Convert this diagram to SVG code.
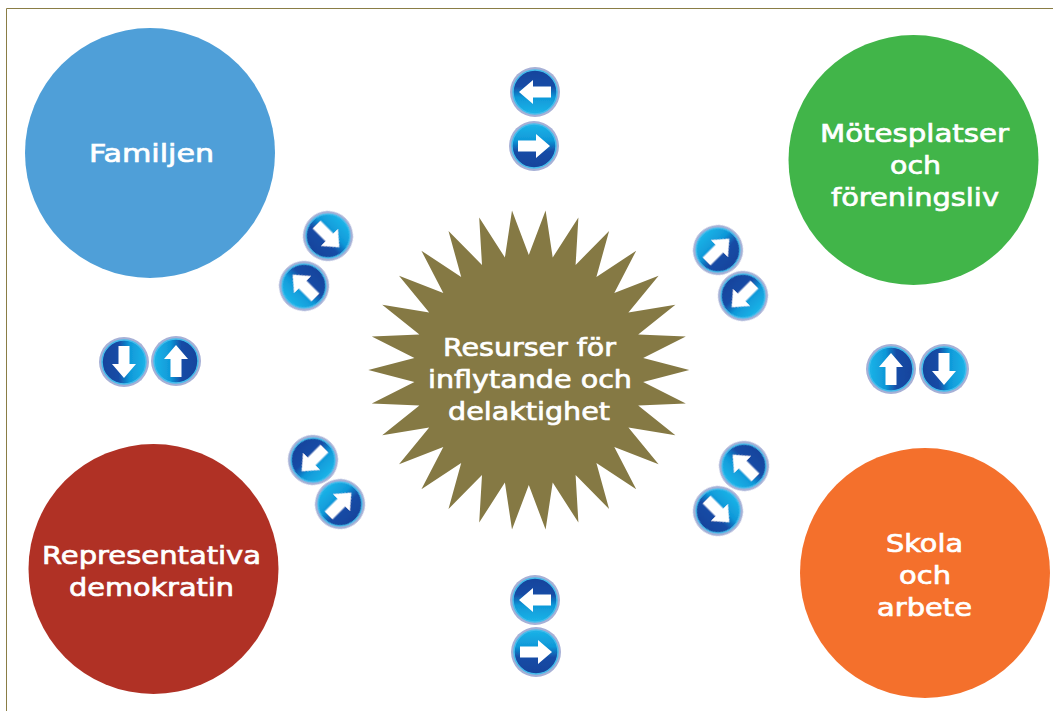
<svg xmlns="http://www.w3.org/2000/svg" width="1053" height="711" viewBox="0 0 1053 711">
<style>
.t{font-family:"DejaVu Sans",Verdana,sans-serif;font-size:25px;fill:#fff;text-anchor:middle;stroke:#fff;stroke-width:.7px}
</style>
<defs>
<linearGradient id="g" x1="0" y1="0" x2="0" y2="1"><stop offset="0" stop-color="#1cb4e8"/><stop offset=".38" stop-color="#0f98d8"/><stop offset=".62" stop-color="#134ca6"/><stop offset="1" stop-color="#17439c"/></linearGradient>
<filter id="b" x="-10%" y="-10%" width="120%" height="120%"><feGaussianBlur stdDeviation=".6"/></filter>
<g id="i" filter="url(#b)"><circle r="25" fill="#a6b0d6"/><circle r="22" fill="url(#g)" stroke="#45bdec" stroke-width="1.500"/><path d="M-16-5.500H2V-12L16 0 2 12V5.500H-16Z" fill="#fff"/></g>
</defs>
<rect width="1053" height="711" fill="#fff"/>
<path d="M6.500 711V8.500H1053" fill="none" stroke="#8a7d45" stroke-width="1"/>
<g id="connectors">
<use href="#i" transform="translate(535 92) rotate(180)"/>
<use href="#i" transform="translate(534 146)"/>
<use href="#i" transform="translate(328 236) rotate(45)"/>
<use href="#i" transform="translate(304 286) rotate(225)"/>
<use href="#i" transform="translate(718 250) rotate(-45)"/>
<use href="#i" transform="translate(743 296) rotate(135)"/>
<use href="#i" transform="translate(124 362) rotate(90)"/>
<use href="#i" transform="translate(176 361) rotate(-90)"/>
<use href="#i" transform="translate(891 369) rotate(-90)"/>
<use href="#i" transform="translate(944 369) rotate(90)"/>
<use href="#i" transform="translate(313 460) rotate(135)"/>
<use href="#i" transform="translate(340 504) rotate(-45)"/>
<use href="#i" transform="translate(744 466) rotate(225)"/>
<use href="#i" transform="translate(718 511) rotate(45)"/>
<use href="#i" transform="translate(535 600) rotate(180)"/>
<use href="#i" transform="translate(536 652)"/>
</g>
<g id="familjen"><circle cx="150" cy="153" r="125" fill="#4f9fd8"/><text class="t" x="151.500" y="162" textLength="125" lengthAdjust="spacingAndGlyphs">Familjen</text></g>
<g id="motesplatser"><circle cx="913.500" cy="160" r="125" fill="#41b549"/><text class="t" x="914.500" y="142" textLength="189" lengthAdjust="spacingAndGlyphs">Mötesplatser</text><text class="t" x="915.500" y="174" textLength="51" lengthAdjust="spacingAndGlyphs">och</text><text class="t" x="915" y="206" textLength="168" lengthAdjust="spacingAndGlyphs">föreningsliv</text></g>
<g id="representativa"><circle cx="153.500" cy="569" r="125" fill="#b03125"/><text class="t" x="151.500" y="564" textLength="219" lengthAdjust="spacingAndGlyphs">Representativa</text><text class="t" x="151.500" y="596" textLength="165" lengthAdjust="spacingAndGlyphs">demokratin</text></g>
<g id="skola"><circle cx="925" cy="573" r="125" fill="#f4702c"/><text class="t" x="924.500" y="552" textLength="77" lengthAdjust="spacingAndGlyphs">Skola</text><text class="t" x="925" y="584" textLength="52" lengthAdjust="spacingAndGlyphs">och</text><text class="t" x="924.500" y="616" textLength="95" lengthAdjust="spacingAndGlyphs">arbete</text></g>
<g id="resurser"><polygon fill="#857944" points="689.3,370 643.2,382 685.8,403.4 638.2,405.5 675.4,435.3 628.4,427.5 658.6,464.3 614.3,446.9 636.2,489.3 596.4,463 609.1,509 575.6,475.1 578.4,522.6 552.7,482.5 545.6,529.6 528.8,485 512,529.6 504.9,482.5 479.2,522.6 482,475.1 448.5,509 461.2,463 421.4,489.3 443.3,446.9 399,464.3 429.2,427.5 382.2,435.3 419.4,405.5 371.8,403.4 414.4,382 368.3,370 414.4,358 371.8,336.6 419.4,334.5 382.2,304.7 429.2,312.5 399,275.7 443.3,293.1 421.4,250.7 461.2,277 448.5,231 482,264.9 479.2,217.4 504.9,257.5 512,210.4 528.8,255 545.6,210.4 552.7,257.5 578.4,217.4 575.6,264.9 609.1,231 596.4,277 636.2,250.7 614.3,293.1 658.6,275.7 628.4,312.5 675.4,304.7 638.2,334.5 685.8,336.6 643.2,358"/><text class="t" x="529.500" y="355.500" textLength="173" lengthAdjust="spacingAndGlyphs">Resurser för</text><text class="t" x="530" y="388" textLength="204" lengthAdjust="spacingAndGlyphs">inflytande och</text><text class="t" x="529" y="419.500" textLength="162" lengthAdjust="spacingAndGlyphs">delaktighet</text></g>
</svg>
